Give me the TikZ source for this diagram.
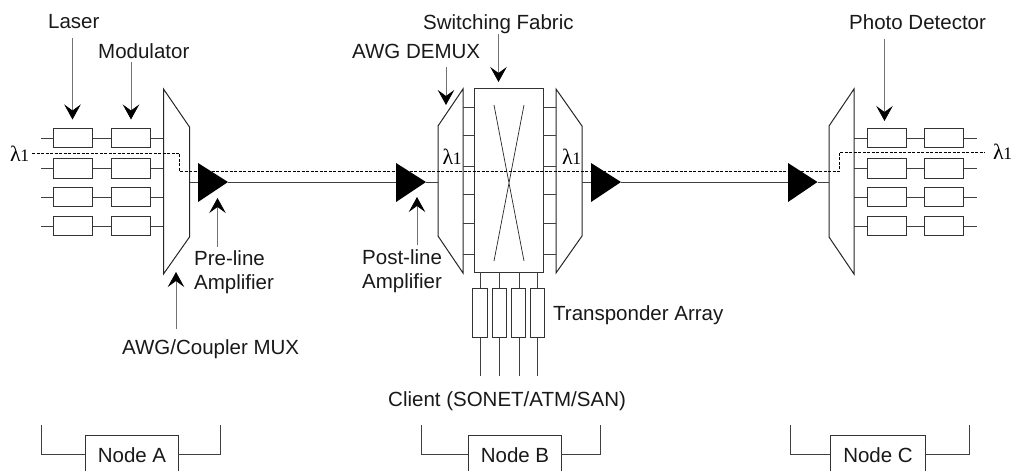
\documentclass[tikz,border=0pt]{standalone}
\usepackage{fontspec}
\setmainfont{Liberation Sans}
\newfontfamily\lamgreek{Liberation Serif}
\usetikzlibrary{arrows.meta}
\tikzset{
  x=1pt,y=-1pt,
  line/.style={draw=black!75,line width=1pt},
  thinbox/.style={draw=black!80,line width=1pt,fill=white,inner sep=0pt,minimum width=39pt,minimum height=19.5pt},
  tbox/.style={draw=black!80,line width=1pt,fill=white,inner sep=0pt,minimum width=14.5pt,minimum height=49pt},
  amp/.style={fill=black,draw=none},
  trap/.style={draw=black!85,line width=1pt,fill=white},
  pointer/.style={draw=black!55,line width=0.7pt,-{Stealth[black,length=15pt,width=16.5pt,inset=6pt]}},
  lbl/.style={inner sep=0pt,font=\fontsize{20.5}{23}\selectfont,anchor=base west,text=black!90},
  lam/.style={inner sep=0pt,font=\lamgreek\fontsize{22}{24}\selectfont,anchor=base west},
  dashline/.style={draw=black,line width=0.9pt,dash pattern=on 3pt off 1.5pt},
  nodebox/.style={draw=black!80,line width=1pt,fill=white,inner sep=0pt,font=\fontsize{20.5}{23}\selectfont,text=black!90,anchor=north west,text height=14.7pt,text depth=0pt}
}
\newcommand{\lamtext}{λ\kern-0.5pt{\fontsize{17.5}{20}\selectfont 1}}
\begin{document}
\begin{tikzpicture}
\useasboundingbox (0,0) rectangle (1012,471);
% coordinates
\coordinate (m1) at (163.5,89); \coordinate (m2) at (189.5,127); \coordinate (m3) at (189.5,237); \coordinate (m4) at (163.5,274);
\coordinate (d1) at (463,89); \coordinate (d2) at (438,126); \coordinate (d3) at (438,236); \coordinate (d4) at (463,273);
\coordinate (e1) at (556,89); \coordinate (e2) at (582,126); \coordinate (e3) at (582,236); \coordinate (e4) at (556,273);
\coordinate (c1) at (854,89); \coordinate (c2) at (829,126); \coordinate (c3) at (829,237); \coordinate (c4) at (854,274);
% stubs
\foreach \y [count=\i] in {138,168.5,197,226}{
  \coordinate (sa\i) at (41,\y); \coordinate (sb\i) at (163.5,\y);
  \draw[line] (sa\i) -- (sb\i);
  \node[thinbox] (la\i) at (72.5,\y) {};
  \node[thinbox] (mo\i) at (130.5,\y) {};
  \coordinate (sc\i) at (854,\y); \coordinate (sd\i) at (977,\y);
  \draw[line] (sc\i) -- (sd\i);
  \node[thinbox] (pd\i) at (886.5,\y) {};
  \node[thinbox] (po\i) at (943.5,\y) {};
}
% traps
\draw[trap] (m1) -- (m2) -- (m3) -- (m4) -- cycle;
\draw[trap] (d1) -- (d2) -- (d3) -- (d4) -- cycle;
\draw[trap] (e1) -- (e2) -- (e3) -- (e4) -- cycle;
\draw[trap] (c1) -- (c2) -- (c3) -- (c4) -- cycle;
% fabric
\node[draw=black!80,line width=1pt,fill=white,minimum width=69pt,minimum height=184pt,inner sep=0pt] (fab) at (508.5,180) {};
\coordinate (x1) at (494,105); \coordinate (x2) at (524,261); \coordinate (x3) at (524,105); \coordinate (x4) at (494,261);
\draw[black!85,line width=0.7pt] (x1) -- (x2) (x3) -- (x4);
\foreach \y [count=\i] in {107,135,166,194,223,254}{
  \coordinate (fl\i) at (463,\y); \coordinate (fla\i) at (474,\y);
  \coordinate (fr\i) at (543,\y); \coordinate (fra\i) at (556,\y);
  \draw[line] (fl\i) -- (fla\i) (fr\i) -- (fra\i);
}
% transponders
\foreach \x/\bx [count=\i] in {480/480,499/499.5,519/518.5,537/537.5}{
  \coordinate (ta\i) at (\x,272); \coordinate (tb\i) at (\x,376);
  \draw[line] (ta\i) -- (tb\i);
  \node[tbox] (tr\i) at (\bx,312.5) {};
}
% main line amps
\path[amp] (198,163) coordinate (a1) -- (198,202) -- (228,182) coordinate (a2) -- cycle;
\path[amp] (396,163) coordinate (b1) -- (396,202) -- (426,182) coordinate (b2) -- cycle;
\path[amp] (591,163) coordinate (g1) -- (591,202) -- (621,182) coordinate (g2) -- cycle;
\path[amp] (788,163) coordinate (h1) -- (788,202) -- (817.5,182) coordinate (h2) -- cycle;
\draw[line] (189.5,182) -- (198,182) (a2) -- (396,182) (b2) -- (438,182) (582,182) -- (591,182) (g2) -- (788,182) (h2) -- (829,182);
% dashed path
\coordinate (ds) at (32,153); \coordinate (de) at (985,152);
\draw[dashline] (ds) -- (179.5,153) -- (179.5,171.5) -- (839,171.5) -- (839,152) -- (de);
% pointers
\draw[pointer] (72.5,38) -- (72.5,119.5);
\draw[pointer] (131,62) -- (131,119.5);
\draw[pointer] (217.5,247) -- (217.5,198);
\draw[pointer] (176,329) -- (176,272);
\draw[pointer] (417,245) -- (417,197);
\draw[pointer] (446,67) -- (446,105);
\draw[pointer] (498.5,34) -- (498.5,82);
\draw[pointer] (884.5,39) -- (884.5,121);
% labels
\node[lbl] (t1) at (48,28) {Laser};
\node[lbl] (t2) at (98,58) {Modulator};
\node[lbl] (t3) at (194,265) {Pre-line};
\node[lbl] (t4) at (194,289) {Amplifier};
\node[lbl] (t5) at (122,354) {AWG/Coupler MUX};
\node[lbl] (t6) at (362,264) {Post-line};
\node[lbl] (t7) at (362,288) {Amplifier};
\node[lbl] (t8) at (352,58) {AWG DEMUX};
\node[lbl] (t9) at (423,29) {Switching Fabric};
\node[lbl] (t10) at (553,320) {Transponder Array};
\node[lbl] (t11) at (388,406) {Client (SONET/ATM/SAN)};
\node[lbl] (t12) at (849,29) {Photo Detector};
\node[lam] (l1) at (10,161) {\lamtext};
\node[lam] (l2) at (442.5,164) {\lamtext};
\node[lam] (l3) at (562,164) {\lamtext};
\node[lam] (l4) at (993,159) {\lamtext};
% node boxes
\foreach \n/\a/\b/\c/\d in {A/41/85/178/220,B/421/468/561/600,C/790/830/925/969}{
  \pgfmathsetmacro{\w}{\c-\b}
  \node[nodebox,minimum width=\w pt,minimum height=40pt] (n\n) at (\b,435) {Node \n};
  \coordinate (p\n) at (\a,425); \coordinate (q\n) at (\d,425);
  \coordinate (r\n) at (\b,454); \coordinate (s\n) at (\c,454);
  \draw[line] (p\n) |- (r\n);
  \draw[line] (q\n) |- (s\n);
}
\end{tikzpicture}
\end{document}
